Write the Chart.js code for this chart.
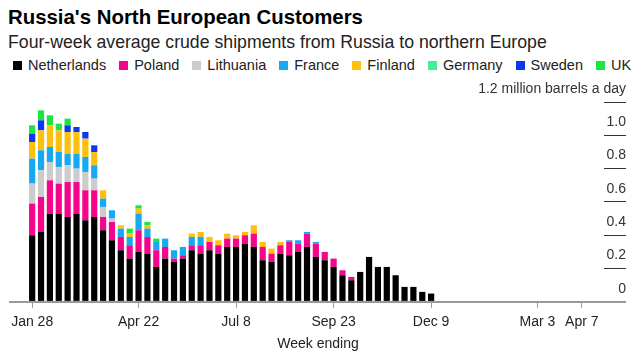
<!DOCTYPE html>
<html><head><meta charset="utf-8">
<script src="https://cdn.jsdelivr.net/npm/chart.js@4.4.0/dist/chart.umd.min.js"></script>
<style>
html,body{margin:0;padding:0;background:#fff;}
#wrap{position:relative;width:635px;height:357px;overflow:hidden;font-family:"Liberation Sans",Arial,sans-serif;}
#title{position:absolute;left:8px;top:5px;font-size:20.4px;font-weight:bold;line-height:24px;color:#000;white-space:nowrap;}
#sub{position:absolute;left:8px;top:32px;font-size:17.7px;line-height:20px;color:#222;white-space:nowrap;}
#legend{position:absolute;left:13px;top:56px;display:flex;font-size:14.5px;line-height:18px;color:#222;white-space:nowrap;}
.item{display:flex;align-items:center;margin-right:13px;}
.sw{display:inline-block;width:9px;height:9px;margin-right:6px;}
canvas{position:absolute;left:0;top:0;}
</style></head>
<body><div id="wrap">
<div id="title">Russia's North European Customers</div>
<div id="sub">Four-week average crude shipments from Russia to northern Europe</div>
<div id="legend"></div>
<canvas id="c" width="635" height="357"></canvas>
</div>
<script>
// Week-ending categories (Fridays), Jan 14 2022 .. Apr 21 2023
const weeks = ['Jan 14','Jan 21','Jan 28','Feb 4','Feb 11','Feb 18','Feb 25','Mar 4','Mar 11','Mar 18','Mar 25',
 'Apr 1','Apr 8','Apr 15','Apr 22','Apr 29','May 6','May 13','May 20','May 27','Jun 3','Jun 10','Jun 17','Jun 24',
 'Jul 1','Jul 8','Jul 15','Jul 22','Jul 29','Aug 5','Aug 12','Aug 19','Aug 26','Sep 2','Sep 9','Sep 16','Sep 23','Sep 30',
 'Oct 7','Oct 14','Oct 21','Oct 28','Nov 4','Nov 11','Nov 18','Nov 25','Dec 2','Dec 9','Dec 16','Dec 23','Dec 30',
 'Jan 6','Jan 13','Jan 20','Jan 27','Feb 3','Feb 10','Feb 17','Feb 24','Mar 3','Mar 10','Mar 17','Mar 24','Mar 31',
 'Apr 7','Apr 14','Apr 21'];
const tickLabels = ['Jan 28','Apr 22','Jul 8','Sep 23','Dec 9','Mar 3','Apr 7'];
const firstDataWeek = 'Jan 28';
const yTicks = [0, 0.2, 0.4, 0.6, 0.8, 1.0, 1.2];
const yUnit = 'million barrels a day';

const seriesNames = ['Netherlands','Poland','Lithuania','France','Finland','Germany','Sweden','UK'];

// million barrels a day, weeks Jan 28 .. Dec 9 (46 weeks)
const netherlands = [0.40,0.42,0.53,0.53,0.51,0.53,0.49,0.51,0.43,0.37,0.31,0.26,0.30,0.29,0.21,0.26,0.24,0.26,0.31,0.29,
 0.31,0.29,0.33,0.33,0.35,0.33,0.25,0.24,0.29,0.28,0.30,0.33,0.27,0.25,0.21,0.16,0.13,0.18,0.27,0.21,0.21,0.16,0.09,0.09,0.06,0.05];
const poland = [0.19,0.21,0.20,0.18,0.21,0.19,0.18,0.16,0.08,0.11,0.08,0.08,0.13,0.10,0.10,0.07,0.02,0.02,0.03,0.05,
 0.05,0.05,0.05,0.05,0.05,0.08,0.08,0.05,0.05,0.08,0.05,0.08,0.08,0.05,0.05,0.03,0.02,0,0,0,0,0,0,0,0,0];
const lithuania = [0.12,0.16,0.11,0.10,0.10,0.08,0.11,0.07,0.06,0.02,0,0,0,0,0,0,0,0,0,0,
 0,0,0,0,0,0,0,0,0,0,0,0,0,0,0,0,0,0,0,0,0,0,0,0,0,0];
const france = [0.15,0.12,0.09,0.09,0.07,0.09,0.09,0.08,0.05,0.05,0.05,0.05,0.10,0.05,0.05,0.05,0.05,0.05,0.05,0.05,
 0,0,0,0,0,0,0,0,0,0.01,0.02,0.01,0.01,0,0,0,0,0,0,0,0,0,0,0,0,0];
const finland = [0.10,0.12,0.13,0.13,0.13,0.13,0.11,0.08,0.05,0,0.02,0.02,0.03,0.02,0,0,0,0,0.02,0.03,
 0.03,0.03,0.03,0.02,0.02,0.05,0.03,0.03,0.02,0,0,0,0,0,0,0,0,0,0,0,0,0,0,0,0,0];
const germany = [0,0,0,0,0,0,0,0,0,0,0,0,0,0,0,0,0,0,0,0,
 0,0,0,0,0,0,0,0,0,0,0,0,0,0,0,0,0,0,0,0,0,0,0,0,0,0];
const sweden = [0.05,0.06,0,0,0.04,0.03,0.04,0.04,0,0,0,0,0,0,0,0,0,0,0,0,
 0,0,0,0,0,0,0,0,0,0,0,0,0,0,0,0,0,0,0,0,0,0,0,0,0,0];
const uk = [0.05,0.06,0.06,0.04,0.04,0,0,0,0,0,0,0.03,0.02,0.02,0.02,0,0,0,0,0,
 0,0,0,0,0,0,0,0,0,0,0,0,0,0,0,0,0,0,0,0,0,0,0,0,0,0];

const seriesValues = [netherlands, poland, lithuania, france, finland, germany, sweden, uk];
const colors = ['#000000','#f5048c','#cccccc','#17aaf3','#fdc00c','#44ee95','#0b38ef','#1be63f'];

// legend
const leg = document.getElementById('legend');
seriesNames.forEach((n, i) => {
  const it = document.createElement('div'); it.className = 'item';
  const sw = document.createElement('span'); sw.className = 'sw'; sw.style.background = colors[i];
  it.appendChild(sw); it.appendChild(document.createTextNode(n)); leg.appendChild(it);
});

const startIdx = weeks.indexOf(firstDataWeek);
function spread(vals) {
  const out = weeks.map(() => null);
  vals.forEach((v, i) => { out[startIdx + i] = v; });
  return out;
}

const FONT = '"Liberation Sans", Arial, sans-serif';
Chart.defaults.font.family = FONT;

const isZero = (ctx) => ctx.tick && Math.abs(ctx.tick.value) < 1e-9;
const xShown = (ctx) => tickLabels.includes(weeks[ctx.index]);

new Chart(document.getElementById('c'), {
  type: 'bar',
  data: {
    labels: weeks,
    datasets: seriesNames.map((n, i) => ({
      label: n,
      data: spread(seriesValues[i]),
      backgroundColor: colors[i],
      borderWidth: 0,
      barPercentage: 0.7,
      categoryPercentage: 1.0,
      stack: 's'
    }))
  },
  options: {
    responsive: false,
    animation: false,
    layout: { padding: { left: 10, right: 9, top: 102, bottom: 4 } },
    plugins: {
      legend: { display: false },
      tooltip: { enabled: false },
      title: {
        display: true, text: 'Week ending', position: 'bottom', align: 'center',
        color: '#222', font: { family: FONT, size: 14, weight: 'normal' },
        padding: { top: -0.5, bottom: 0 }
      }
    },
    scales: {
      x: {
        stacked: true,
        offset: true,
        grid: {
          display: true, drawOnChartArea: false, drawTicks: true, tickLength: 6, offset: false,
          color: (ctx) => xShown(ctx) ? '#999' : 'rgba(0,0,0,0)',
          tickColor: (ctx) => xShown(ctx) ? '#999' : 'rgba(0,0,0,0)',
          lineWidth: 1, tickWidth: 1
        },
        border: { display: true, color: '#999', width: 2 },
        ticks: {
          autoSkip: false, maxRotation: 0, minRotation: 0, padding: 6,
          color: '#222', font: { size: 14 },
          callback: (v, i) => tickLabels.includes(weeks[i]) ? weeks[i] : ''
        }
      },
      y: {
        stacked: true,
        position: 'right',
        min: yTicks[0], max: yTicks[yTicks.length - 1],
        afterFit: (s) => { s.width = 22; },
        afterBuildTicks: (s) => { s.ticks = yTicks.map(v => ({ value: v })); },
        grid: {
          display: true, drawOnChartArea: false, drawTicks: true, tickLength: 22,
          color: (ctx) => isZero(ctx) ? '#999' : '#333',
          tickColor: (ctx) => isZero(ctx) ? '#999' : '#333',
          lineWidth: (ctx) => isZero(ctx) ? 2 : 1,
          tickWidth: (ctx) => isZero(ctx) ? 2 : 1
        },
        border: { display: false },
        ticks: {
          mirror: true, padding: 22, crossAlign: 'near',
          labelOffset: -13, color: '#333', font: { size: 14 },
          callback: (v) => {
            if (Math.abs(v - yTicks[yTicks.length - 1]) < 1e-9) return v.toFixed(1) + ' ' + yUnit;
            if (v === 0) return '0';
            return v.toFixed(1);
          }
        }
      }
    }
  }
});
</script>
</body></html>
